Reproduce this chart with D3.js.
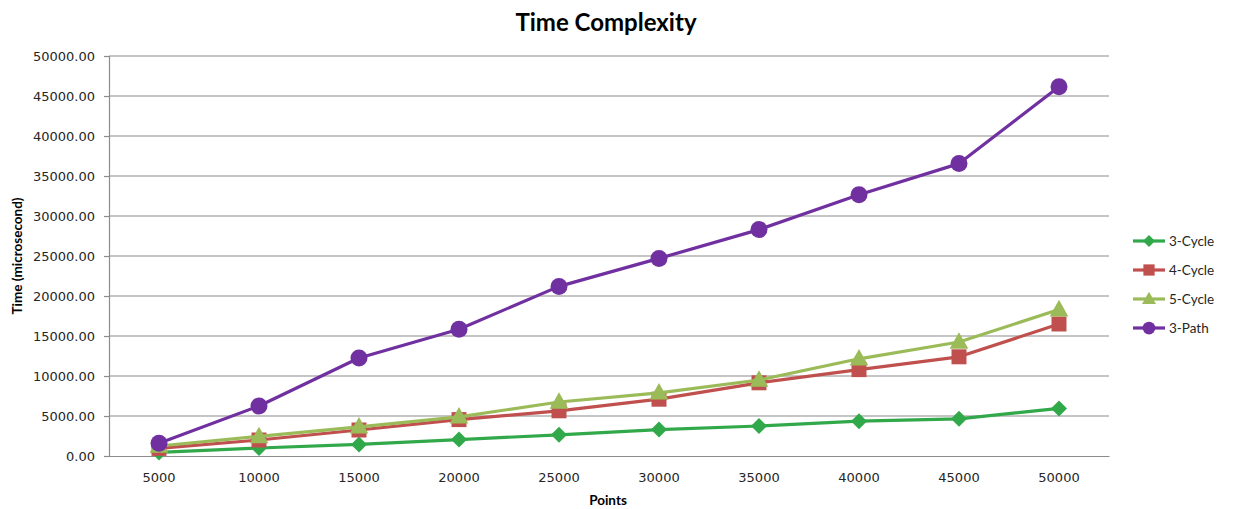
<!DOCTYPE html>
<html><head><meta charset="utf-8">
<script src="https://cdn.jsdelivr.net/npm/d3@7"></script>
<style>body{margin:0;background:#fff}svg{display:block}</style>
</head><body>
<script>
const categories = [5000,10000,15000,20000,25000,30000,35000,40000,45000,50000];
const cycle3 = [450,1000,1450,2050,2650,3300,3750,4350,4650,5950];
const cycle4 = [950,2000,3250,4550,5650,7100,9150,10800,12400,16500];
const cycle5 = [1250,2450,3650,4900,6750,7900,9500,12150,14250,18300];
const path3  = [1600,6250,12250,15850,21200,24700,28300,32650,36550,46150];
const seriesNames = ["3-Cycle","4-Cycle","5-Cycle","3-Path"];
const yTicks = [0,5000,10000,15000,20000,25000,30000,35000,40000,45000,50000];

const series = [
  {name:seriesNames[0], values:cycle3, color:"#31a94a", marker:"diamond"},
  {name:seriesNames[1], values:cycle4, color:"#c0504d", marker:"square"},
  {name:seriesNames[2], values:cycle5, color:"#9bbb59", marker:"triangle"},
  {name:seriesNames[3], values:path3,  color:"#7030a0", marker:"circle"}
];

const W=1234,H=509;
const svg=d3.select("body").append("svg").attr("width",W).attr("height",H);
const pLeft=109,pRight=1109,pTop=56,pBottom=456;
const x=d3.scaleBand().domain(categories).range([pLeft,pRight]);
const y=d3.scaleLinear().domain([0,50000]).range([pBottom,pTop]);
const cx=d=>x(d)+x.bandwidth()/2;

// gridlines
svg.append("g").selectAll("line").data(yTicks.slice(1)).join("line")
  .attr("x1",pLeft).attr("x2",pRight).attr("y1",d=>y(d)).attr("y2",d=>y(d))
  .attr("stroke","#8c8c8c").attr("stroke-width",1.2);

// y axis
const yAxis=d3.axisLeft(y).tickValues(yTicks).tickSize(5).tickPadding(9).tickFormat(d3.format(".2f"));
const ya=svg.append("g").attr("transform",`translate(${pLeft},0)`).call(yAxis);
ya.select(".domain").attr("stroke","#8c8c8c").attr("stroke-width",1.2);
ya.selectAll(".tick line").attr("stroke","#8c8c8c").attr("stroke-width",1.2);
ya.selectAll("text").attr("font-family","DejaVu Sans").attr("font-size","13px").attr("fill","#262626");

// x axis
const xAxis=d3.axisBottom(x).tickSize(0).tickPadding(17);
const xa=svg.append("g").attr("transform",`translate(0,${pBottom})`).call(xAxis);
xa.select(".domain").attr("stroke","#8c8c8c").attr("stroke-width",1.2);
xa.selectAll("text").attr("font-family","DejaVu Sans").attr("font-size","13px").attr("fill","#262626");

// title
svg.append("text").attr("x",606).attr("y",31).attr("text-anchor","middle")
  .attr("font-family","Lato, 'Open Sans', sans-serif").attr("font-weight","bold").attr("font-size","24px")
  .attr("fill","#000").text("Time Complexity");
// axis titles
svg.append("text").attr("transform","translate(22,256) rotate(-90)").attr("text-anchor","middle")
  .attr("font-family","Lato, 'Open Sans', sans-serif").attr("font-weight","bold").attr("font-size","13.5px")
  .text("Time (microsecond)");
svg.append("text").attr("x",608).attr("y",505).attr("text-anchor","middle")
  .attr("font-family","Lato, 'Open Sans', sans-serif").attr("font-weight","bold").attr("font-size","13.5px")
  .text("Points");

function markerPath(type,size){
  const s=size;
  if(type==="diamond") return `M0,${-s}L${s},0L0,${s}L${-s},0Z`;
  if(type==="square") return `M${-s},${-s}H${s}V${s}H${-s}Z`;
  if(type==="triangle") return `M0,${-s*1.15}L${s*1.1},${s*0.8}L${-s*1.1},${s*0.8}Z`;
  return null;
}
const sizes={diamond:8,square:7.5,triangle:8.5,circle:8.5};

function drawMarker(g,type,color,px,py,scale=1){
  if(type==="circle"){
    g.append("circle").attr("cx",px).attr("cy",py).attr("r",sizes.circle*scale).attr("fill",color);
  } else {
    g.append("path").attr("d",markerPath(type,sizes[type]*scale))
      .attr("transform",`translate(${px},${py})`).attr("fill",color);
  }
}

const line=d3.line().x((d,i)=>cx(categories[i])).y(d=>y(d));
series.forEach(s=>{
  const g=svg.append("g");
  g.append("path").attr("d",line(s.values)).attr("fill","none").attr("stroke",s.color)
    .attr("stroke-width",3.2).attr("stroke-linejoin","round");
  s.values.forEach((v,i)=>drawMarker(g,s.marker,s.color,cx(categories[i]),y(v)));
});

// legend
const lg=svg.append("g");
series.forEach((s,i)=>{
  const ly=241+i*29;
  lg.append("line").attr("x1",1133).attr("x2",1165).attr("y1",ly).attr("y2",ly)
    .attr("stroke",s.color).attr("stroke-width",3.2);
  drawMarker(lg,s.marker,s.color,1149,ly,0.75);
  lg.append("text").attr("x",1169).attr("y",ly+4.5)
    .attr("font-family","Lato, 'Open Sans', sans-serif").attr("font-size","13.5px").attr("fill","#262626")
    .text(s.name);
});
</script>
</body></html>
